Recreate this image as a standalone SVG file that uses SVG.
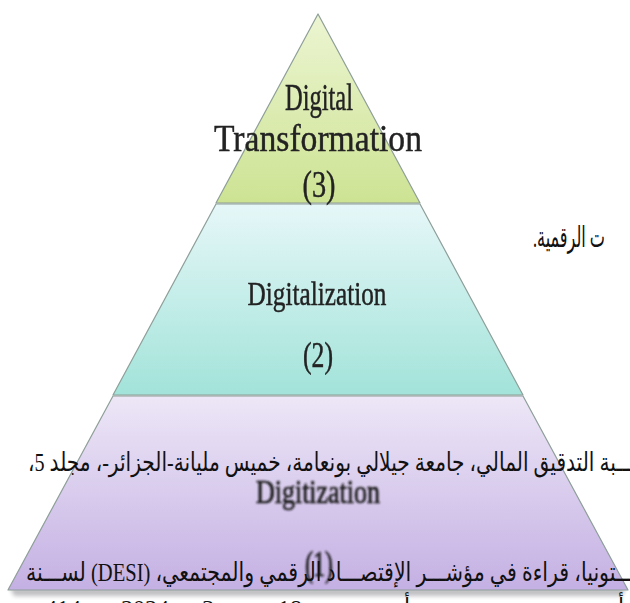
<svg xmlns="http://www.w3.org/2000/svg" width="630" height="603" viewBox="0 0 630 603">
  <style>
    .lbl { font-family: "Liberation Serif", "Times New Roman", serif; fill: #222; stroke: #222; stroke-width: 0.45; text-anchor: middle; }
    .ar { font-family: "Liberation Serif", "DejaVu Sans", sans-serif; fill: #111; }
    .num { font-family: "Liberation Serif", serif; font-size: 24px; fill: #111; text-anchor: middle; }
    .edge { stroke: #8e9e98; stroke-width: 1.2; stroke-linejoin: round; }
  </style>
  <defs>
    <linearGradient id="gTop" x1="0" y1="0" x2="0" y2="1">
      <stop offset="0" stop-color="#ecf5d2"/>
      <stop offset="1" stop-color="#cde393"/>
    </linearGradient>
    <linearGradient id="gMid" x1="0" y1="0" x2="0" y2="1">
      <stop offset="0" stop-color="#e6f7f8"/>
      <stop offset="1" stop-color="#a2e3d9"/>
    </linearGradient>
    <linearGradient id="gBot" x1="0" y1="0" x2="0" y2="1">
      <stop offset="0" stop-color="#ede7f7"/>
      <stop offset="1" stop-color="#c4b0e3"/>
    </linearGradient>
    <filter id="soft" x="-10%" y="-10%" width="120%" height="120%">
      <feGaussianBlur stdDeviation="0.6"/>
    </filter>
    <filter id="blur" x="-10%" y="-20%" width="120%" height="140%">
      <feGaussianBlur stdDeviation="0.95"/>
    </filter>
    <filter id="shadow" x="-5%" y="-100%" width="110%" height="300%">
      <feGaussianBlur stdDeviation="2"/>
    </filter>
  </defs>

  <rect x="0" y="0" width="630" height="603" fill="#ffffff"/>

  <!-- shadow under base -->
  <polygon points="10,588 626,588 622,596 14,596" fill="#8a8a92" opacity="0.55" filter="url(#shadow)"/>

  <g id="tier1-digitization">
    <polygon class="edge" points="113,396 523,396 628,590 8,590" fill="url(#gBot)"/>
    <g filter="url(#blur)">
      <text class="lbl" x="318" y="503" font-size="33" textLength="124" lengthAdjust="spacingAndGlyphs" style="fill:#1a1a1a;stroke:#1a1a1a;stroke-width:0.7">Digitization</text>
      <text class="lbl" x="319" y="576" font-size="36" textLength="28" lengthAdjust="spacingAndGlyphs" style="fill:#1a1a1a;stroke:#1a1a1a;stroke-width:0.7">(1)</text>
    </g>
  </g>

  <g id="tier2-digitalization">
    <polygon class="edge" points="216,204 420,204 523,395 113,395" fill="url(#gMid)"/>
    <g filter="url(#soft)">
      <text class="lbl" x="317" y="305" font-size="34" textLength="139" lengthAdjust="spacingAndGlyphs">Digitalization</text>
      <text class="lbl" x="318" y="367" font-size="35" textLength="30" lengthAdjust="spacingAndGlyphs">(2)</text>
    </g>
  </g>

  <g id="tier3-digital-transformation">
    <polygon class="edge" points="318,14 420,203 216,203" fill="url(#gTop)"/>
    <g filter="url(#soft)">
      <text class="lbl" x="319" y="110" font-size="38" textLength="68" lengthAdjust="spacingAndGlyphs">Digital</text>
      <text class="lbl" x="318" y="151" font-size="38" textLength="208" lengthAdjust="spacingAndGlyphs">Transformation</text>
      <text class="lbl" x="319" y="197" font-size="38" textLength="33" lengthAdjust="spacingAndGlyphs">(3)</text>
    </g>
  </g>

  <g id="connectors"/>

  <!-- overlapping page text -->
  <g id="page-text">
    <text class="ar" x="605" y="247" direction="rtl" text-anchor="start" font-size="29" textLength="72" lengthAdjust="spacingAndGlyphs">ت الرقمية.</text>
    <text class="ar" x="634" y="471" direction="rtl" text-anchor="start" font-size="26" textLength="606" lengthAdjust="spacingAndGlyphs">ـــبة التدقيق المالي، جامعة جيلالي بونعامة، خميس مليانة-الجزائر-، مجلد 5،</text>
    <text class="ar" x="634" y="581" direction="rtl" text-anchor="start" font-size="26" textLength="608" lengthAdjust="spacingAndGlyphs">ـــتونيا، قراءة في مؤشـــر الإقتصـــاد الرقمي والمجتمعي، (DESI) لســـنة</text>
    <text class="num" x="63" y="616">414</text>
    <text class="num" x="145" y="616">2024</text>
    <text class="num" x="208" y="616">3</text>
    <text class="num" x="290" y="616">18</text>
    <text class="ar" x="404" y="614" font-size="22">أ</text>
    <text class="ar" x="618" y="614" font-size="22">أ</text>
  </g>
</svg>
